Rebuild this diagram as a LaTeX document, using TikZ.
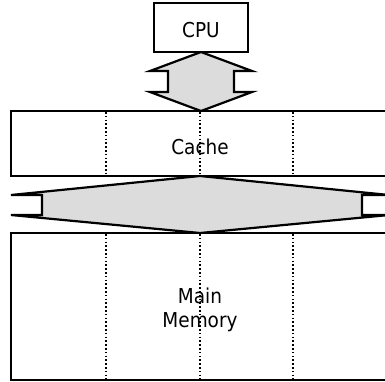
\documentclass[tikz,border=0pt]{standalone}
\usepackage{fontspec}
\setmainfont{DejaVu Sans}[FakeStretch=0.9]
\usetikzlibrary{calc}
\definecolor{arrowgray}{HTML}{DCDCDC}
\tikzset{
  box/.style={draw=black, line width=2.3pt, fill=white, inner sep=0pt, outer sep=0pt},
  lbl/.style={font=\fontsize{20.5}{24}\selectfont, inner sep=0pt, align=center},
  fatarrow/.style={draw=black, line width=2.2pt, fill=arrowgray, line join=miter},
  dotline/.style={line width=1.6pt, dash pattern=on 1.6pt off 2.2pt}
}
\begin{document}
\begin{tikzpicture}[x=1pt,y=-1pt]
\useasboundingbox (0,0) rectangle (385,381);
\clip (0,0) rectangle (385,381);
% boxes
\node[box, minimum width=94pt, minimum height=49pt, anchor=north west] (cpu) at (154,3) {};
\node[box, minimum width=378pt, minimum height=65pt, anchor=north west] (cache) at (11,111) {};
\node[box, minimum width=378pt, minimum height=147pt, anchor=north west] (memory) at (11,233) {};
% arrows
\draw[fatarrow] (cpu.south) -- ++(-51,19) -- ++(18,0) -- ++(0,21) -- ++(-18,0)
  -- (cpu.south |- cache.north) -- ++(51,-19) -- ++(-18,0) -- ++(0,-21) -- ++(18,0) -- cycle;
\draw[fatarrow] (cache.south) -- ++(-189,19) -- ++(31,0) -- ++(0,20) -- ++(-31,0)
  -- (memory.north) -- ++(189,-18) -- ++(-27,0) -- ++(0,-20) -- ++(27,0) -- cycle;
% redraw box borders over arrow tips
\draw[line width=2.3pt] (cpu.south west) rectangle (cpu.north east);
\draw[line width=2.3pt] (cache.south west) rectangle (cache.north east);
\draw[line width=2.3pt] (memory.south west) rectangle (memory.north east);
% labels
\node[lbl, anchor=base] (cputext) at (201,37) {CPU};
\node[lbl, anchor=base] (cachetext) at (200,154) {Cache};
\node[lbl, anchor=base] (memtext) at (200,327) {Main\\Memory};
% dotted partitions
\foreach \xx in {106,200,293} {
  \draw[dotline] (\xx,112) -- (\xx,175);
  \draw[dotline] (\xx,234) -- (\xx,379);
}
\end{tikzpicture}
\end{document}
